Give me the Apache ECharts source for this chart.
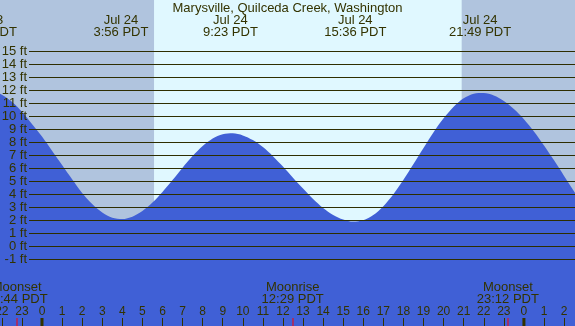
<!DOCTYPE html>
<html><head><meta charset="utf-8">
<script src="https://cdn.jsdelivr.net/npm/echarts@6/dist/echarts.min.js"></script>
<style>html,body{margin:0;padding:0;background:#fff}#c{width:575px;height:326px}</style>
</head><body><div id="c"></div>
<script>
const chartTitle = 'Marysville, Quilceda Creek, Washington';
// half-hourly readings, hours counted from 00:00 PDT, Jul 24
const tideHours = [-3, -2.5, -2, -1.5, -1, -0.5, 0, 0.5, 1, 1.5, 2, 2.5, 3, 3.5, 4, 4.5, 5, 5.5, 6, 6.5, 7, 7.5, 8, 8.5, 9, 9.5, 10, 10.5, 11, 11.5, 12, 12.5, 13, 13.5, 14, 14.5, 15, 15.5, 16, 16.5, 17, 17.5, 18, 18.5, 19, 19.5, 20, 20.5, 21, 21.5, 22, 22.5, 23, 23.5, 24, 24.5, 25, 25.5, 26, 26.5, 27];
const tideFeet  = [11.98, 11.95, 11.66, 11.11, 10.35, 9.41, 8.45, 7.35, 6.25, 5.15, 4.1, 3.25, 2.6, 2.2, 2.1, 2.28, 2.71, 3.36, 4.18, 5.1, 6.05, 6.94, 7.71, 8.29, 8.62, 8.69, 8.53, 8.17, 7.63, 6.93, 6.13, 5.28, 4.44, 3.64, 2.95, 2.41, 2.06, 1.9, 2.0, 2.4, 3.09, 4.01, 5.11, 6.33, 7.57, 8.78, 9.85, 10.74, 11.38, 11.74, 11.79, 11.6, 11.18, 10.56, 9.78, 8.83, 7.75, 6.61, 5.41, 4.22, 3.07];
const extremeHours = [-2.8, 3.933, 9.383, 15.6, 21.817];
const extremeDates = ['Jul 23', 'Jul 24', 'Jul 24', 'Jul 24', 'Jul 24'];
const extremeTimes = ['21:12 PDT', '3:56 PDT', '9:23 PDT', '15:36 PDT', '21:49 PDT'];
const moonHours = [-1.267, 12.483, 23.2];
const moonEvents = ['Moonset', 'Moonrise', 'Moonset'];
const moonTimes = ['22:44 PDT', '12:29 PDT', '23:12 PDT'];
const midnightHours = [0, 24];
const sunriseHour = 5.58;
const sunsetHour = 20.9;
const hourMin = -3, hourMax = 27;
const feetMin = -1, feetMax = 15;

const FONT = 'Liberation Sans, Arial, sans-serif';
const TXT = '#333300';
const NIGHT = '#b0c4de';
const DAY = '#e0f8ff';
const WATER = '#4060d6';

const chart = echarts.init(document.getElementById('c'), null, {renderer: 'canvas'});

function textEl(x, y, t, size) {
  return {type: 'text', x: x, y: y, style: {text: t, textAlign: 'center', textVerticalAlign: 'middle',
    fontFamily: FONT, fontSize: size || 13, fill: TXT}};
}

chart.setOption({
  backgroundColor: DAY,
  animation: false,
  title: {text: chartTitle, left: 'center', top: 2, padding: 0,
    textStyle: {fontFamily: FONT, fontSize: 13, fontWeight: 'normal', color: TXT}},
  grid: [
    {left: -18.24, right: -9.16, top: 0, bottom: 0, outerBoundsMode: 'none', containLabel: false},
    {left: 29, right: 0, top: 51.3, bottom: 66.7, outerBoundsMode: 'none', containLabel: false}
  ],
  xAxis: [
    {type: 'value', gridIndex: 0, min: hourMin, max: hourMax, interval: 1, position: 'bottom',
      axisLine: {show: false, onZero: false}, splitLine: {show: false},
      axisTick: {show: true, inside: true, length: 8, lineStyle: {color: TXT, width: 1}},
      axisLabel: {inside: true, margin: 8, fontFamily: FONT, fontSize: 12, color: TXT,
        hideOverlap: false, formatter: v => String(((v % 24) + 24) % 24)},
      z: 5},
    {type: 'value', gridIndex: 1, min: 0, max: 1, show: false}
  ],
  yAxis: [
    {type: 'value', gridIndex: 0, min: -6.131, max: 18.946, show: false},
    {type: 'value', gridIndex: 1, min: feetMin, max: feetMax, interval: 1,
      axisLine: {show: false}, axisTick: {show: false},
      splitLine: {show: true, lineStyle: {color: '#2e2e00', width: 1}},
      axisLabel: {margin: 2, fontFamily: FONT, fontSize: 13, color: TXT, formatter: '{value} ft'},
      z: 3}
  ],
  series: [
    {type: 'line', xAxisIndex: 0, yAxisIndex: 0, data: [], z: 1, silent: true,
      markArea: {silent: true, itemStyle: {color: NIGHT}, data: [
        [{xAxis: hourMin}, {xAxis: sunriseHour}],
        [{xAxis: sunsetHour}, {xAxis: hourMax}]
      ]}},
    {type: 'line', xAxisIndex: 0, yAxisIndex: 0, z: 2, smooth: 0.3, symbol: 'none',
      data: tideHours.map((h, i) => [h, tideFeet[i]]),
      lineStyle: {width: 0, color: WATER},
      areaStyle: {color: WATER, opacity: 1, origin: 'start'}},
    {type: 'custom', xAxisIndex: 0, yAxisIndex: 0, z: 6, silent: true,
      data: extremeHours.map((h, i) => [h, i]),
      renderItem: (p, api) => {
        const x = api.coord([api.value(0), 0])[0];
        const i = api.value(1);
        return {type: 'group', children: [
          textEl(x, 20, extremeDates[i]), textEl(x, 32, extremeTimes[i])]};
      }},
    {type: 'custom', xAxisIndex: 0, yAxisIndex: 0, z: 6, silent: true,
      data: moonHours.map((h, i) => [h, i]),
      renderItem: (p, api) => {
        const x = api.coord([api.value(0), 0])[0];
        const i = api.value(1);
        return {type: 'group', children: [
          textEl(x, 287.5, moonEvents[i]), textEl(x, 299.5, moonTimes[i]),
          {type: 'rect', shape: {x: Math.round(x) - 0.5, y: 318, width: 1, height: 8}, style: {fill: '#ff0000'}}]};
      }},
    {type: 'custom', xAxisIndex: 0, yAxisIndex: 0, z: 6, silent: true,
      data: midnightHours.map(h => [h]),
      renderItem: (p, api) => {
        const x = api.coord([api.value(0), 0])[0];
        return {type: 'rect', shape: {x: x - 1.5, y: 318, width: 3, height: 8}, style: {fill: TXT}};
      }}
  ]
});
</script></body></html>
